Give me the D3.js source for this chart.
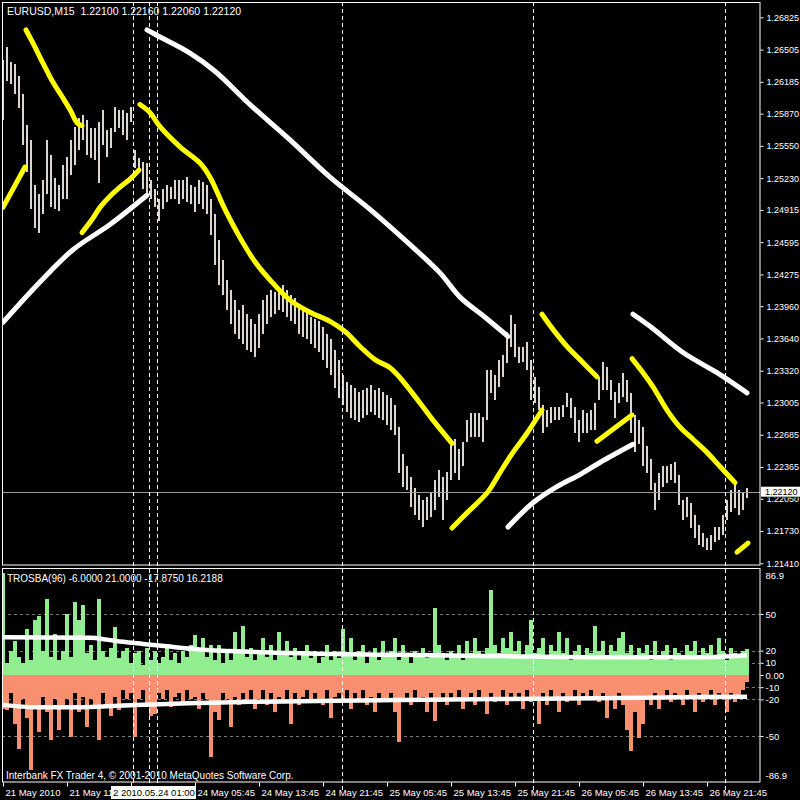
<!DOCTYPE html>
<html><head><meta charset="utf-8">
<script src="https://cdn.jsdelivr.net/npm/d3@7"></script>
<style>html,body{margin:0;background:#000}svg{display:block}text{font-family:"Liberation Sans",Arial,sans-serif}</style>
</head><body><svg id="c" width="800" height="800"></svg>
<script>
// ---------- DATA ----------
const symbolTitle = "EURUSD,M15  1.22100 1.22160 1.22060 1.22120";
const indicatorTitle = "TROSBA(96) -6.0000 21.0000 -17.8750 16.2188";
const copyright = "Interbank FX Trader 4, \u00A9 2001-2010 MetaQuotes Software Corp.";
const cursorLabel = "2 2010.05.24 01:00";
const lastPrice = 1.22120;

const priceTicks = [1.26825,1.26505,1.26185,1.25870,1.25550,1.25230,1.24915,1.24595,1.24275,1.23960,1.23640,1.23320,1.23005,1.22685,1.22365,1.22050,1.21730,1.21410];
const indTicks = [86.9,50,20,10,0,-10,-20,-50,-86.9];
const indGrid = [50,20,10,-10,-20,-50];
const timeTickIdx = [0,16,32,48,64,80,96,112,128,144,160,176];
const timeLabels = ["21 May 2010","21 May 11:45","23 May 21:45","24 May 05:45","24 May 13:45","24 May 21:45","25 May 05:45","25 May 13:45","25 May 21:45","26 May 05:45","26 May 13:45","26 May 21:45"];
const separatorIdx = [32.5,36.5,38.5,84.75,132.5,180.5];

const highs = [1.2640,1.2653,1.2638,1.2636,1.2624,1.2606,1.2576,1.2561,1.2516,1.2507,1.2521,1.2561,1.2546,1.2523,1.2516,1.2536,
1.2544,1.2561,1.2574,1.2583,1.2586,1.2581,1.2573,1.2573,1.2579,1.2591,1.2571,1.2573,1.2594,1.2591,1.2591,1.2588,
1.2594,1.2551,1.2543,1.2539,1.2538,1.2521,1.2512,1.2502,1.2512,1.2516,1.2514,1.2521,1.2521,1.2521,1.2524,1.2516,
1.2514,1.2521,1.2519,1.2516,1.2502,1.2487,1.2462,1.2442,1.2422,1.2412,1.2402,1.2392,1.2397,1.2388,1.2383,1.2378,
1.2388,1.2402,1.2407,1.2412,1.2410,1.2415,1.2417,1.2412,1.2407,1.2404,1.2397,1.2392,1.2390,1.2385,1.2383,1.2381,
1.2375,1.2368,1.2363,1.2353,1.2343,1.2328,1.2321,1.2318,1.2315,1.2311,1.2313,1.2315,1.2318,1.2313,1.2315,1.2311,
1.2308,1.2305,1.2298,1.2276,1.2249,1.2237,1.2227,1.2216,1.2209,1.2204,1.2207,1.2211,1.2224,1.2234,1.2227,1.2232,
1.2264,1.2264,1.2254,1.2261,1.2283,1.2290,1.2290,1.2290,1.2286,1.2333,1.2333,1.2328,1.2343,1.2348,1.2370,1.2387,
1.2378,1.2356,1.2356,1.2360,1.2343,1.2326,1.2316,1.2298,1.2293,1.2296,1.2296,1.2296,1.2298,1.2310,1.2305,1.2296,
1.2283,1.2293,1.2290,1.2293,1.2300,1.2326,1.2341,1.2336,1.2323,1.2311,1.2320,1.2330,1.2323,1.2310,1.2288,1.2283,
1.2276,1.2257,1.2244,1.2221,1.2231,1.2237,1.2237,1.2239,1.2241,1.2229,1.2204,1.2207,1.2201,1.2189,1.2179,1.2171,
1.2166,1.2169,1.2177,1.2177,1.2189,1.2204,1.2214,1.2220,1.2214,1.2211,1.2216];
const lows = [1.2581,1.2619,1.2616,1.2606,1.2593,1.2556,1.2529,1.2492,1.2474,1.2469,1.2487,1.2507,1.2494,1.2492,1.2490,1.2502,
1.2502,1.2526,1.2536,1.2551,1.2561,1.2546,1.2543,1.2541,1.2518,1.2556,1.2544,1.2553,1.2569,1.2573,1.2566,1.2561,
1.2579,1.2533,1.2529,1.2512,1.2505,1.2502,1.2494,1.2480,1.2492,1.2499,1.2502,1.2502,1.2497,1.2502,1.2499,1.2497,
1.2489,1.2497,1.2492,1.2487,1.2467,1.2437,1.2417,1.2407,1.2392,1.2378,1.2368,1.2363,1.2358,1.2353,1.2351,1.2346,
1.2355,1.2368,1.2378,1.2385,1.2388,1.2392,1.2390,1.2385,1.2381,1.2378,1.2368,1.2365,1.2363,1.2358,1.2355,1.2351,
1.2343,1.2335,1.2328,1.2315,1.2305,1.2298,1.2291,1.2285,1.2283,1.2281,1.2285,1.2288,1.2291,1.2288,1.2285,1.2283,
1.2278,1.2273,1.2268,1.2231,1.2217,1.2214,1.2197,1.2189,1.2184,1.2177,1.2184,1.2187,1.2194,1.2207,1.2184,1.2204,
1.2224,1.2231,1.2224,1.2237,1.2261,1.2266,1.2266,1.2266,1.2261,1.2283,1.2310,1.2303,1.2316,1.2326,1.2340,1.2356,
1.2346,1.2340,1.2341,1.2333,1.2303,1.2300,1.2293,1.2270,1.2276,1.2280,1.2283,1.2283,1.2286,1.2296,1.2285,1.2270,
1.2261,1.2270,1.2270,1.2273,1.2273,1.2303,1.2313,1.2313,1.2303,1.2285,1.2300,1.2306,1.2301,1.2270,1.2251,1.2259,
1.2237,1.2231,1.2214,1.2194,1.2204,1.2217,1.2221,1.2224,1.2221,1.2199,1.2184,1.2187,1.2176,1.2166,1.2159,1.2157,
1.2154,1.2154,1.2162,1.2164,1.2169,1.2184,1.2192,1.2196,1.2189,1.2194,1.2206];

// channel lines: [bar index, price]
const yellowLines = [
 [[0,1.2494],[5.5,1.2534]],
 [[5.75,1.2670],[7.5,1.2657],[10,1.2637],[12.5,1.2618],[14.75,1.2604],[16.75,1.2591],[18.5,1.2578],[19.75,1.2575]],
 [[19.75,1.2469],[22.25,1.2482],[24.25,1.2494],[26.75,1.2505],[29.25,1.2514],[31.75,1.2522],[34,1.2531]],
 [[34.25,1.2596],[36.75,1.2588],[39.25,1.2574],[44.25,1.2554],[49.25,1.2538],[51.75,1.2524],[55.5,1.2492],[59.25,1.2464],[63,1.2440],[66.75,1.2422],[71.75,1.2402],[76.75,1.2390],[81.75,1.2381],[85.5,1.2371],[89.25,1.2356],[93,1.2343],[96.75,1.2335],[99.25,1.2325],[104.25,1.2300],[107.5,1.2283],[112.25,1.2260]],
 [[112.25,1.2176],[116,1.2191],[121.25,1.2212],[124.25,1.2231],[127.5,1.2251],[131,1.2270],[134.75,1.2293]],
 [[134.75,1.2388],[137.5,1.2373],[141,1.2356],[144.25,1.2343],[148.5,1.2326]],
 [[148.5,1.2262],[157.25,1.2288]],
 [[157.25,1.2344],[160,1.2330],[162.5,1.2316],[166,1.2293],[169.25,1.2276],[172.5,1.2264],[176,1.2251],[179.25,1.2237],[183,1.2221]],
 [[183.5,1.2152],[186.25,1.2161]]
];
const whiteLines = [
 [[0,1.2380],[9.25,1.2420],[17.5,1.2452],[26.75,1.2477],[36,1.2506]],
 [[36,1.2670],[39.25,1.2663],[46.75,1.2647],[53,1.2629],[61.75,1.2596],[71.75,1.2561],[81.75,1.2524],[91.75,1.2492],[101.75,1.2457],[109.25,1.2429],[114.25,1.2405],[120.5,1.2385],[126.25,1.2366]],
 [[126.25,1.2177],[132.5,1.2201],[138.5,1.2217],[144.25,1.2229],[149.25,1.2241],[157.5,1.2259]],
 [[157.5,1.2388],[161.75,1.2376],[170,1.2350],[178.5,1.2330],[186,1.2310]]
];

// TROSBA indicator
const buyVol = [84,10,20,28,15,10,38,12,45,48,20,62,15,34,12,20,
50,15,60,45,57,18,25,12,62,20,15,22,39,14,20,22,
10,18,20,8,22,12,20,10,15,25,12,18,10,20,15,25,
33,20,30,15,25,12,25,10,18,12,35,20,40,15,22,12,
20,30,15,25,12,35,18,28,15,22,12,18,25,14,20,10,
15,25,12,20,14,38,18,30,12,20,25,10,18,22,12,28,
15,20,30,12,25,18,10,20,15,22,14,18,55,25,18,12,
20,15,25,12,28,18,30,20,15,22,70,25,18,30,22,35,
20,28,15,25,45,18,22,30,14,25,20,35,18,30,12,20,
25,15,22,18,40,20,28,15,25,20,30,35,18,25,15,22,
18,25,12,28,15,20,25,12,22,18,15,25,20,28,14,22,
18,25,15,30,20,12,22,18,15,20,21];
const sellVol = [-28,-29,-15,-40,-61,-20,-35,-78,-25,-47,-18,-30,-53,-20,-45,-25,
-20,-51,-15,-30,-18,-43,-20,-28,-53,-15,-25,-34,-18,-29,-12,-20,
-15,-51,-20,-12,-25,-34,-32,-15,-20,-12,-26,-18,-15,-25,-12,-20,
-18,-28,-15,-20,-67,-30,-37,-15,-20,-43,-18,-25,-15,-22,-12,-28,
-20,-12,-25,-15,-30,-18,-22,-12,-40,-15,-25,-18,-12,-22,-15,-20,
-25,-12,-35,-18,-15,-22,-12,-28,-15,-20,-12,-25,-18,-30,-15,-20,
-22,-15,-30,-55,-20,-15,-25,-12,-20,-18,-30,-15,-38,-22,-15,-25,
-15,-20,-12,-28,-18,-15,-25,-12,-20,-32,-15,-22,-18,-12,-25,-15,
-20,-15,-28,-12,-22,-18,-40,-15,-25,-12,-20,-30,-15,-22,-18,-12,
-25,-15,-20,-12,-18,-22,-15,-35,-20,-28,-15,-25,-45,-62,-30,-52,
-40,-20,-25,-15,-28,-18,-12,-22,-15,-20,-25,-12,-18,-30,-15,-22,
-18,-12,-25,-15,-20,-30,-15,-22,-18,-12,-6];
const avgBuy = [[0,31],[22,30.5],[26,29],[30,27.2],[35,25.5],[41,23.5],[49,21],[62,19],[99,16.5],[124,15.5],[149,14.5],[174,14.5],[186,16.2]];
const avgSell = [[0,-24.5],[8,-26.5],[16,-26.5],[24,-26],[33,-24.5],[41,-23.7],[49,-23],[62,-22],[74,-21.5],[99,-20.5],[124,-19.7],[149,-19],[174,-18],[186,-17.9]];

// ---------- DRAW ----------
const svg = d3.select('#c');
svg.append('rect').attr('width',800).attr('height',800).attr('fill','#000');
const x = d3.scaleLinear().domain([0,186]).range([3,747]);
const y = d3.scaleLinear().domain([1.21393,1.26977]).range([565,2]);
const yi = d3.scaleLinear().domain([-86.9,86.9]).range([781,569]);
const boxTop = y(lastPrice)-5, boxBottom = y(lastPrice)+5;
const cursorBox = {x:111, y:786, w:85, h:13};

const defs = svg.append('defs');
defs.append('clipPath').attr('id','cm').append('rect').attr('x',2).attr('y',2).attr('width',758).attr('height',563);
defs.append('clipPath').attr('id','ci').append('rect').attr('x',2).attr('y',568).attr('width',758).attr('height',214);

const gm = svg.append('g').attr('clip-path','url(#cm)');
const gi = svg.append('g').attr('clip-path','url(#ci)');

// price bars
gm.append('g').selectAll('rect').data(highs).join('rect')
  .attr('x',(d,i)=>Math.round(x(i))-1).attr('width',2)
  .attr('y',d=>Math.round(y(d))).attr('height',(d,i)=>Math.max(1,Math.round(y(lows[i]))-Math.round(y(d))))
  .attr('fill','#ddd5cf').attr('shape-rendering','crispEdges');

// current price line
gm.append('line').attr('x1',2).attr('x2',760).attr('y1',Math.round(y(lastPrice))+0.5).attr('y2',Math.round(y(lastPrice))+0.5)
  .attr('stroke','#9a9a9a').attr('stroke-width',1);

// indicator grid
gi.append('g').selectAll('line').data(indGrid).join('line')
  .attr('x1',2).attr('x2',760).attr('y1',d=>Math.round(yi(d))+0.5).attr('y2',d=>Math.round(yi(d))+0.5)
  .attr('stroke','#7a7a7a').attr('stroke-dasharray','3,3');

// histogram
const bw = 4;
gi.append('g').selectAll('rect').data(buyVol).join('rect')
  .attr('x',(d,i)=>Math.round(x(i))-bw/2).attr('width',bw)
  .attr('y',d=>yi(d)).attr('height',d=>yi(0)-yi(d))
  .attr('fill','#90ee90').attr('shape-rendering','crispEdges');
gi.append('g').selectAll('rect').data(sellVol).join('rect')
  .attr('x',(d,i)=>Math.round(x(i))-bw/2).attr('width',bw)
  .attr('y',yi(0)).attr('height',d=>yi(d)-yi(0))
  .attr('fill','#f8906f').attr('shape-rendering','crispEdges');

// separators
svg.append('g').selectAll('line').data(separatorIdx).join('line')
  .attr('x1',d=>Math.round(x(d))+0.5).attr('x2',d=>Math.round(x(d))+0.5)
  .attr('y1',2).attr('y2',790)
  .attr('stroke','#fff').attr('stroke-dasharray','4,3').attr('stroke-width',1);

// channel lines
const pl = d3.line().x(d=>x(d[0])).y(d=>y(d[1])).curve(d3.curveCatmullRom);
gm.append('g').selectAll('path').data(whiteLines).join('path')
  .attr('d',pl).attr('fill','none').attr('stroke','#fff').attr('stroke-width',5).attr('stroke-linecap','round');
gm.append('g').selectAll('path').data(yellowLines).join('path')
  .attr('d',pl).attr('fill','none').attr('stroke','#ffff00').attr('stroke-width',5).attr('stroke-linecap','round');

// indicator averages
const il = d3.line().x(d=>x(d[0])).y(d=>yi(d[1])).curve(d3.curveMonotoneX);
gi.append('g').selectAll('path').data([avgBuy,avgSell]).join('path')
  .attr('d',il).attr('fill','none').attr('stroke','#fff').attr('stroke-width',4.5);

// frames
svg.append('rect').attr('x',2.5).attr('y',2.5).attr('width',757.5).attr('height',562.5).attr('fill','none').attr('stroke','#fff');
svg.append('rect').attr('x',2.5).attr('y',568.5).attr('width',757.5).attr('height',213.5).attr('fill','none').attr('stroke','#fff');

// right price axis
const ax = svg.append('g').attr('transform','translate(760.5,0)')
  .call(d3.axisRight(y).tickValues(priceTicks).tickFormat(d3.format('.5f')).tickSize(3).tickPadding(3));
ax.select('.domain').remove();
ax.selectAll('line').attr('stroke','#fff');
ax.selectAll('text').attr('fill','#fff').style('font-size','9px');
// the tick label next to the current price is partly covered by the price box (clip in the tick's local space)
ax.selectAll('.tick').filter(d=>Math.abs(y(d)-y(lastPrice))<10).each(function(d){
  const id='clp'+Math.round(d*1e5);
  defs.append('clipPath').attr('id',id).append('rect').attr('x',-5).attr('y',boxBottom-y(d)).attr('width',50).attr('height',20);
  d3.select(this).select('text').attr('clip-path','url(#'+id+')');
});

// last price box
svg.append('rect').attr('x',761).attr('y',boxTop).attr('width',39).attr('height',10).attr('fill','#fff');
svg.append('text').attr('x',765).attr('y',y(lastPrice)+3.5).text(d3.format('.5f')(lastPrice)).attr('fill','#000').style('font-size','9px');

// indicator axis
const ai = svg.append('g').attr('transform','translate(760.5,0)')
  .call(d3.axisRight(yi).tickValues(indTicks).tickFormat(d=>d===0?'0.00':(Math.abs(d)===86.9?d.toFixed(1):String(d))).tickSize(3).tickPadding(2));
ai.select('.domain').remove();
ai.selectAll('line').attr('stroke','#fff');
ai.selectAll('text').attr('fill','#fff').style('font-size','9.5px');
ai.selectAll('.tick').filter(d=>d===86.9).select('text').attr('y',6);
ai.selectAll('.tick').filter(d=>d===-86.9).select('text').attr('y',-6);
ai.selectAll('.tick').filter(d=>Math.abs(d)===86.9).select('line').remove();

// bottom time axis
const ab = svg.append('g').attr('transform','translate(0,782.5)')
  .call(d3.axisBottom(x).tickValues(timeTickIdx).tickFormat((d,i)=>timeLabels[i]).tickSize(4).tickPadding(3));
ab.select('.domain').remove();
ab.selectAll('line').attr('stroke','#fff');
ab.selectAll('text').attr('fill','#fff').attr('text-anchor','start').attr('x',2).style('font-size','9.5px');
// labels under the cursor box: one is cut at the box edge, one fully covered
ab.selectAll('.tick').each(function(d){
  const tx = x(d);
  const t = d3.select(this).select('text');
  if (tx < cursorBox.x && tx + 58 > cursorBox.x) {
    const id='clt'+d;
    defs.append('clipPath').attr('id',id).append('rect').attr('x',-5).attr('y',-5).attr('width',cursorBox.x-tx+5).attr('height',30);
    t.attr('clip-path','url(#'+id+')');
  } else if (tx >= cursorBox.x && tx + 58 <= cursorBox.x + cursorBox.w) {
    t.style('visibility','hidden');
  }
});

// cursor date box
svg.append('rect').attr('x',cursorBox.x).attr('y',cursorBox.y).attr('width',cursorBox.w).attr('height',cursorBox.h).attr('fill','#fff');
svg.append('text').attr('x',113).attr('y',796).text(cursorLabel).attr('fill','#000').style('font-size','9.5px');

// titles
svg.append('text').attr('x',7).attr('y',15).attr('xml:space','preserve').text(symbolTitle).attr('fill','#fff').style('font-size','10.5px').style('white-space','pre');
svg.append('text').attr('x',7).attr('y',582).text(indicatorTitle).attr('fill','#fff').style('font-size','10px');
svg.append('text').attr('x',6).attr('y',779).text(copyright).attr('fill','#fff').style('font-size','10px');
</script></body></html>
